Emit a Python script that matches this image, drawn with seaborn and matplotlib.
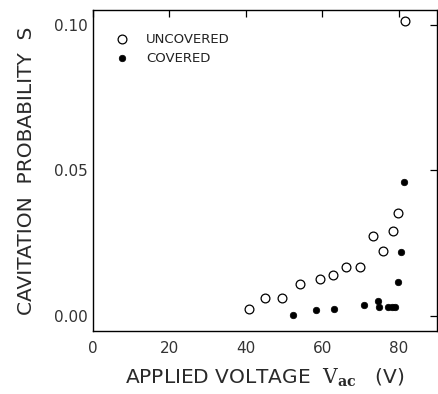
import matplotlib
matplotlib.use("Agg")
import matplotlib.pyplot as plt
import seaborn as sns
import pandas as pd

# Data
unc_v = [40.9, 45.1, 49.4, 54.1, 59.3, 62.7, 66.3, 69.9, 73.2, 75.8, 78.5, 79.8, 81.7]
unc_s = [0.0021, 0.0061, 0.0061, 0.0107, 0.0126, 0.0138, 0.0167, 0.0167, 0.0272, 0.0221, 0.0291, 0.0351, 0.1011]
cov_v = [52.3, 58.3, 63.0, 70.9, 74.5, 74.9, 77.3, 78.2, 79.0, 79.7, 80.7, 81.3]
cov_s = [0.0003, 0.0018, 0.0021, 0.0038, 0.0050, 0.0030, 0.0030, 0.0030, 0.0030, 0.0114, 0.0217, 0.0460]
xticks = [0, 20, 40, 60, 80]
yticks = [0.00, 0.05, 0.10]
ytick_labels = ["0.00", "0.05", "0.10"]

sns.set_theme(style="white")
plt.rcParams['font.family'] = ['DejaVu Sans']
plt.rcParams['mathtext.fontset'] = 'dejavuserif'

fig = plt.figure(figsize=(4.38, 3.94), dpi=100)
ax = fig.add_axes([0.2123, 0.1599, 0.7854, 0.8147])

df_u = pd.DataFrame({"V": unc_v, "S": unc_s})
df_c = pd.DataFrame({"V": cov_v, "S": cov_s})

sns.scatterplot(data=df_u, x="V", y="S", ax=ax, marker="o", s=40,
                facecolor="white", edgecolor="black", linewidth=0.9, label="UNCOVERED")
sns.scatterplot(data=df_c, x="V", y="S", ax=ax, marker="o", s=22,
                color="black", edgecolor="black", linewidth=0.5, label="COVERED")

ax.set_xlim(0, 90)
ax.set_ylim(-0.0053, 0.105)
ax.set_xticks(xticks)
ax.set_yticks(yticks)
ax.set_yticklabels(ytick_labels)
ax.tick_params(direction="in", length=5, width=0.9, top=True, right=True,
               labeltop=False, labelright=False, labelsize=11, colors="black")
ax.tick_params(axis="x", pad=7)
ax.tick_params(axis="y", pad=4)
for lab in ax.get_xticklabels() + ax.get_yticklabels():
    lab.set_color("#333333")
for sp in ax.spines.values():
    sp.set_visible(True)
    sp.set_color("black")
    sp.set_linewidth(1.0)

ax.set_xlabel("APPLIED VOLTAGE  $\\mathrm{V}_{\\mathbf{ac}}$   (V)", fontsize=14.5,
              color="#2a2a2a", labelpad=8)
ax.set_ylabel("CAVITATION  PROBABILITY  S", fontsize=14.5, color="#2a2a2a", labelpad=13)

leg = ax.legend(loc="upper left", frameon=False, fontsize=9.5, handletextpad=0.8,
                borderaxespad=0.0, labelspacing=0.45, bbox_to_anchor=(0.032, 0.945))
for t in leg.get_texts():
    t.set_color("#222222")

fig.savefig("out.png", dpi=100)
